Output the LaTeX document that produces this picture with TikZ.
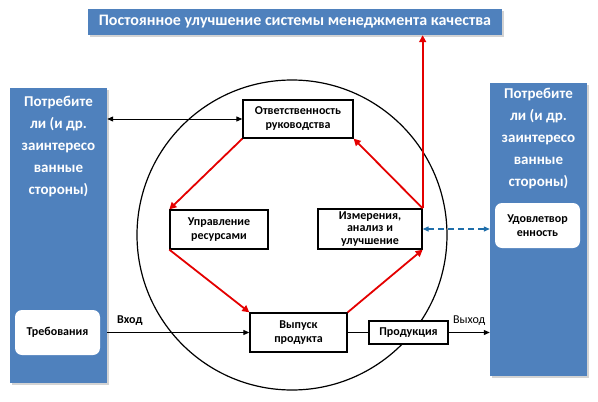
\documentclass[tikz,border=0pt]{standalone}
\usepackage{fontspec}
\setmainfont{Carlito}
\usetikzlibrary{arrows.meta,shadows}

\definecolor{officeblue}{RGB}{79,129,189}
\definecolor{loopred}{RGB}{228,0,0}
\definecolor{dashblue}{RGB}{31,110,170}

\tikzset{
	procbox/.style={draw=black, line width=1.3pt, fill=white, inner sep=0pt, align=center,
		font=\fontsize{12}{14}\selectfont\bfseries},
	bluepanel/.style={fill=officeblue, inner sep=0pt,
		drop shadow={opacity=0.35, shadow xshift=2pt, shadow yshift=-2pt}},
	paneltext/.style={text=white, align=center, font=\fontsize{15}{22}\selectfont\bfseries},
	softbox/.style={fill=white, rounded corners=7pt, inner sep=0pt, align=center,
		font=\fontsize{12}{14}\selectfont\bfseries},
	cycle/.style={draw=loopred, line width=1.8pt, -{Triangle[length=7pt,width=7pt]}},
	flow/.style={line width=1pt, -{Triangle[length=6pt,width=5pt]}},
}

\begin{document}
\begin{tikzpicture}[x=1pt, y=-1pt]
		\useasboundingbox (0, 0) rectangle (598, 402);

		% top banner
		\node[bluepanel, minimum width=414, minimum height=26] (banner) at (295, 22) {};
		\node[paneltext, font=\fontsize{16}{20}\selectfont\bfseries] at (banner) {Постоянное улучшение системы менеджмента качества};

		% customers, left and right
		\node[bluepanel, minimum width=97, minimum height=295] (leftcust) at (58.5, 235.5) {};
		\node[paneltext] at (58.5, 147) {Потребите\\ли (и др.\\заинтересо\\ванные\\стороны)};

		\node[bluepanel, minimum width=97, minimum height=293] (rightcust) at (538.5, 229.5) {};
		\node[paneltext] at (538.5, 138.5) {Потребите\\ли (и др.\\заинтересо\\ванные\\стороны)};

		\node[softbox, minimum width=85, minimum height=45] (treb) at (57.5, 332.5) {Требования};
		\node[softbox, minimum width=85, minimum height=45] (udov) at (537.5, 225.5) {Удовлетвор\\енность};

		% process circle
		\node[circle, draw, line width=1.2pt, minimum size=310pt, inner sep=0pt] (ring) at (292, 235) {};

		\node[procbox, minimum width=110, minimum height=38] (otv) at (298, 119) {Ответственность\\руководства};
		\node[procbox, minimum width=98, minimum height=39] (upr) at (219, 229.5) {Управление\\ресурсами};
		\node[procbox, minimum width=104, minimum height=40, font=\fontsize{12}{12.5}\selectfont\bfseries] (izm) at (370, 229) {Измерения,\\анализ и\\улучшение};
		\node[procbox, minimum width=97, minimum height=39] (vyp) at (298.5, 332.5) {Выпуск\\продукта};
		\node[procbox, minimum width=79, minimum height=23] (prod) at (408.5, 332.5) {Продукция};

		% cycle
		\draw[cycle] (otv.south west) -- (upr.north west);
		\draw[cycle] (upr.south west) -- (vyp.north west);
		\draw[cycle] (vyp.north east) -- (izm.south east);
		\draw[cycle] (izm.north east) -- (otv.south east);
		\draw[cycle] (izm.north east) -- (izm.north east |- banner.south);

		% links to customers
		\draw[flow, {Triangle[length=6pt,width=5pt]}-{Triangle[length=6pt,width=5pt]}] (leftcust.east |- otv.west) -- (otv.west);
		\draw[flow] (leftcust.east |- vyp.west) -- (vyp.west)
			node[pos=0.16, above=3pt, font=\fontsize{12}{14}\selectfont\bfseries] {Вход};
		\draw[line width=1pt] (vyp.east) -- (prod.west);
		\draw[flow] (prod.east) -- (prod.east -| rightcust.west)
			node[midway, above=3pt, font=\fontsize{12}{14}\selectfont] {Выход};
		\draw[dashblue, dash pattern=on 6pt off 4pt, line width=1.2pt, {Triangle[length=6pt,width=5pt]}-{Triangle[length=6pt,width=5pt]}]
			(izm.east) -- (izm.east -| rightcust.west);
	\end{tikzpicture}
\end{document}
